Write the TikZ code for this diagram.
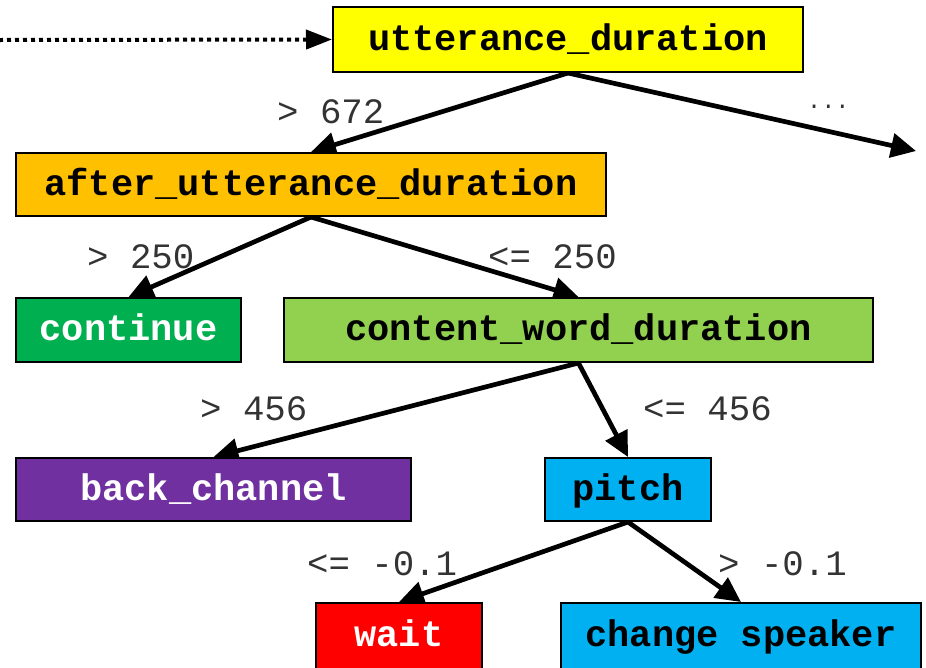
\documentclass[tikz,border=0pt]{standalone}
\usepackage{fontspec}
\usetikzlibrary{arrows.meta,backgrounds}
\newfontfamily\monofam{Liberation Mono}
\definecolor{cyellow}{HTML}{FFFF00}
\definecolor{corange}{HTML}{FFC000}
\definecolor{cgreen}{HTML}{00B050}
\definecolor{clgreen}{HTML}{92D050}
\definecolor{cpurple}{HTML}{7030A0}
\definecolor{cblue}{HTML}{00B0F0}
\definecolor{cred}{HTML}{FF0000}
\tikzset{
  box/.style={draw=black, line width=2pt, inner sep=0pt, anchor=center,
    font=\monofam\bfseries\fontsize{37}{40}\selectfont,
    text height=21pt, text depth=0pt},
  edge/.style={line width=4.7pt, -{Triangle[length=25pt,width=24pt]}},
  lbl/.style={font=\monofam\fontsize{35.7}{38}\selectfont, anchor=base west,
    inner sep=0pt, text=black!80},
}
\begin{document}
\begin{tikzpicture}[x=1pt,y=-1pt]
\useasboundingbox (0,0) rectangle (926,667);

% decision nodes and leaves
\node[box, fill=cyellow, minimum width=470pt, minimum height=65pt] (utt) at (568,39.5) {utterance\_duration};
\node[box, fill=corange, minimum width=590pt, minimum height=63pt] (after) at (311,184.5) {after\_utterance\_duration};
\node[box, fill=cgreen, text=white, minimum width=225pt, minimum height=64pt] (cont) at (128.5,330) {continue};
\node[box, fill=clgreen, minimum width=589pt, minimum height=64pt] (cwd) at (578.5,330) {content\_word\_duration};
\node[box, fill=cpurple, text=white, minimum width=395pt, minimum height=63pt] (back) at (213.5,489.5) {back\_channel};
\node[box, fill=cblue, minimum width=166pt, minimum height=63pt] (pitch) at (628,489.5) {pitch};
\node[box, fill=cred, text=white, minimum width=166pt, minimum height=66pt] (wait) at (399,636) {wait};
\node[box, fill=cblue, minimum width=360pt, minimum height=66pt] (chg) at (741,636) {change speaker};

\coordinate (src) at (0,40);
\coordinate (more) at (916,151);

% branch conditions
\node[lbl] (l1) at (277,123) {> 672};
\node[lbl, font=\monofam\fontsize{23.5}{25}\selectfont] (l2) at (807,108) {...};
\node[lbl] (l3) at (87,268) {> 250};
\node[lbl] (l4) at (488,268) {<= 250};
\node[lbl] (l5) at (200,420) {> 456};
\node[lbl] (l6) at (643,420) {<= 456};
\node[lbl] (l7) at (307,575) {<= -0.1};
\node[lbl] (l8) at (718,575) {> -0.1};

% connectors, kept under the boxes
\begin{scope}[on background layer]
\fill[white] (0,0) rectangle (926,667);
\draw[line width=4pt, dash pattern=on 4pt off 4pt, dash phase=1pt,
  -{Triangle[length=26pt,width=19pt]}] (src) -- (utt.west);
\draw[edge] (utt.south) -- (after.north);
\draw[edge] (utt.south) -- (more);
\draw[edge] (after.south) -- (cont.north);
\draw[edge] (after.south) -- (cwd.north);
\draw[edge] (cwd.south) -- (back.north);
\draw[edge] (cwd.south) -- (pitch.north);
\draw[edge] (pitch.south) -- (wait.north);
\draw[edge] (pitch.south) -- (chg.north);
\end{scope}
\end{tikzpicture}
\end{document}
